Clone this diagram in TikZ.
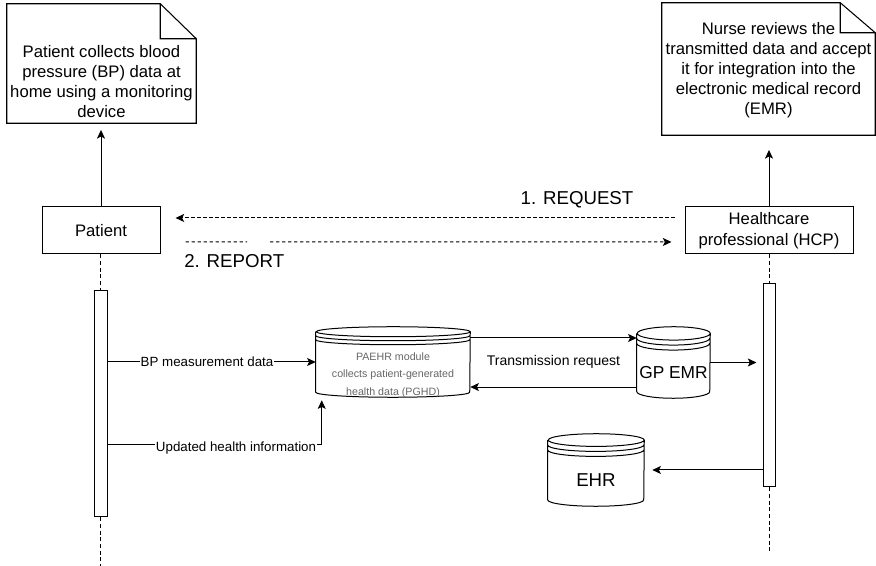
\documentclass[tikz,border=0pt]{standalone}
\usepackage{fontspec}
\setmainfont{Liberation Sans}
\usetikzlibrary{arrows.meta, positioning, calc}

% note outline with a folded top right corner: node, fold width, fold height
\newcommand{\dogear}[3]{%
  \draw[notebox] (#1.north west) -- ([xshift=-#2]#1.north east) -- ([yshift=-#3]#1.north east)
    -- (#1.south east) -- (#1.south west) -- cycle
    ([xshift=-#2]#1.north east) |- ([yshift=-#3]#1.north east);
}
% database drum round a node: node, half width, cap radius, ring gap
\newcommand{\drum}[4]{%
  \draw[line] ([yshift=-#3]#1.north west) -- ([yshift=#3]#1.south west)
    arc[start angle=180, end angle=360, x radius=#2, y radius=#3]
    -- ([yshift=-#3]#1.north east)
    arc[start angle=0, end angle=360, x radius=#2, y radius=#3]
    ([yshift=-#3-#4]#1.north west) arc[start angle=180, end angle=360, x radius=#2, y radius=#3]
    ([yshift=-#3-2*#4]#1.north west) arc[start angle=180, end angle=360, x radius=#2, y radius=#3];
}

\begin{document}
\begin{tikzpicture}[
    x=0.75pt, y=-0.75pt,
    line/.style={line width=0.75pt},
    notebox/.style={line width=0.8pt},
    notetext/.style={align=center, inner sep=0pt, font=\fontsize{12.5}{15}\selectfont},
    actor/.style={draw, line width=0.75pt, minimum height=35.25pt, inner ysep=2pt,
                  align=center, font=\fontsize{12.5}{15.5}\selectfont},
    bar/.style={draw, line width=0.75pt, fill=white, inner sep=0pt},
    drumbox/.style={inner sep=0pt},
    lifeline/.style={line width=0.75pt, dash pattern=on 3pt off 2pt},
    call/.style={line width=0.75pt, dash pattern=on 2.5pt off 2pt},
    lbl/.style={font=\fontsize{14}{16}\selectfont},
    msg/.style={font=\fontsize{10}{12}\selectfont, fill=white, inner sep=0.5pt},
    >={Stealth[length=6.5pt, width=6pt, inset=1.5pt]}
  ]
  \useasboundingbox (0,0) rectangle (876,566);

  % notes
  \node[minimum width=141.75pt, minimum height=89.25pt, inner sep=0pt] (pnote) at (101.5,63.5) {};
  \dogear{pnote}{27pt}{26.25pt}
  \node[notetext] (pnotetext) at (101.5,82) {Patient collects blood\\pressure (BP) data at\\home using a monitoring\\device};

  \node[minimum width=159.75pt, minimum height=99pt, inner sep=0pt] (hnote) at (768.5,69) {};
  \dogear{hnote}{26.25pt}{22.5pt}
  \node[notetext] (hnotetext) at (768.5,70) {Nurse reviews the\\transmitted data and accept\\it for integration into the\\electronic medical record\\(EMR)};

  % actors and activation bars
  \node[actor, minimum width=88.5pt] (patient) at (101,230.5) {Patient};
  \node[actor, minimum width=126pt] (hcp) at (769,230.5) {Healthcare\\professional (HCP)};
  \node[bar, minimum width=9.75pt, minimum height=169.5pt] (pbar) at (100.5,404) {};
  \node[bar, minimum width=9pt, minimum height=152.25pt] (hbar) at (769,385.5) {};

  \draw[line, ->, shorten >=5pt] (patient.north) -- (patient.north |- pnote.south);
  \draw[line, ->, shorten >=11pt] (hcp.north) -- (hcp.north |- hnote.south);

  % lifelines
  \coordinate (pend) at (100.5,566);
  \coordinate (hend) at (769,552);
  \draw[lifeline] (pbar.north |- patient.south) -- (pbar.north);
  \draw[lifeline] (pbar.south) -- (pend);
  \draw[lifeline] (hcp.south) -- (hbar.north);
  \draw[lifeline] (hbar.south) -- (hend);

  % request and report
  \draw[call, ->, shorten <=7.5pt, shorten >=11.25pt] ([yshift=9.4pt]hcp.west) -- ([yshift=9.4pt]patient.east);
  \node[lbl] (request) at (577,200) {1. REQUEST};

  \coordinate (rgapl) at (247,242);
  \coordinate (rgapr) at (270,242);
  \draw[call, shorten <=18.75pt] ([yshift=-8.6pt]patient.east) -- (rgapl);
  \draw[call, ->, shorten >=9.75pt] (rgapr) -- ([yshift=-8.6pt]hcp.west);
  \node[lbl, anchor=west, inner sep=0pt] (report) at (184,261) {2. REPORT};

  % data stores
  \node[drumbox, minimum width=115.5pt, minimum height=52.5pt] (paehr) at (393,362) {};
  \drum{paehr}{57.75pt}{3.75pt}{3pt}
  \node[align=center, text=black!60, font=\fontsize{8}{13}\selectfont] (paehrtext) at (393,375)
    {PAEHR module\\collects patient-generated\\health data (PGHD)};

  \node[drumbox, minimum width=54.75pt, minimum height=53.25pt] (gpemr) at (673.5,362.5) {};
  \drum{gpemr}{27.375pt}{5pt}{3.75pt}
  \node[font=\fontsize{13}{15}\selectfont] (gpemrtext) at (673.5,373) {GP EMR};

  \node[drumbox, minimum width=72pt, minimum height=54pt] (ehr) at (596,470) {};
  \drum{ehr}{36pt}{4.75pt}{3.75pt}
  \node[font=\fontsize{14}{16}\selectfont] (ehrtext) at (596,480) {EHR};

  % messages
  \draw[line, ->] (pbar.east |- paehr.west) -- (paehr.west)
    node[msg, pos=0.478] (bpmsg) {BP measurement data};
  \draw[line, ->] ([yshift=-30.75pt]pbar.east) -| ([xshift=4.5pt, yshift=-2.25pt]paehr.south west)
    node[msg, pos=0.3, yshift=-2.25pt] (updmsg) {Updated health information};

  \draw[line, ->] ([yshift=18pt]paehr.east) -- ([yshift=18pt]paehr.east -| gpemr.west)
    node[midway, yshift=-18pt, font=\fontsize{10.5}{12}\selectfont] (txmsg) {Transmission request};
  \draw[line, ->] ([yshift=-18.4pt]gpemr.west) -- ([yshift=-18.4pt]gpemr.west -| paehr.east);

  \draw[line, ->, shorten >=4.5pt] (gpemr.east) -- (gpemr.east -| hbar.west);
  \draw[line, ->] (hbar.west |- ehr.east) -- ([xshift=6pt]ehr.east);

\end{tikzpicture}
\end{document}
